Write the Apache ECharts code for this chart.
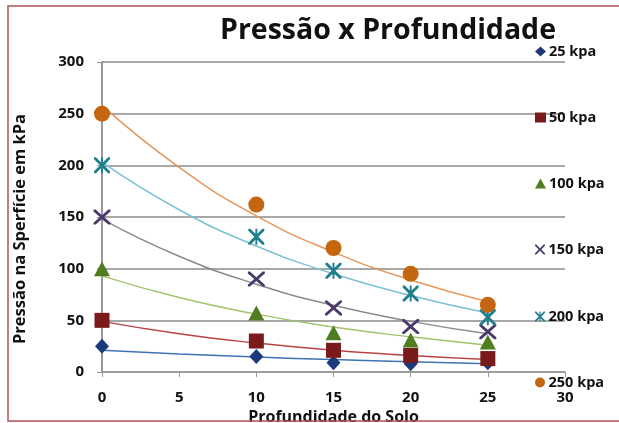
<!DOCTYPE html>
<html>
<head>
<meta charset="utf-8">
<script src="https://cdn.jsdelivr.net/npm/echarts@6/dist/echarts.min.js"></script>
<style>html,body{margin:0;padding:0;background:#fff}#c{width:619px;height:423px}</style>
</head>
<body>
<div id="c"></div>
<script>
// Measured points
var depths = [0, 10, 15, 20, 25];
var p25  = [25, 15, 9, 8, 9];
var p50  = [50, 30, 21, 16, 13];
var p100 = [100, 57, 38, 31, 29];
var p150 = [150, 90, 62, 44, 39];
var p200 = [200, 131, 98, 76, 53];
var p250 = [250, 162, 120, 95, 65];
// Trendline values
var trendDepths = [0, 5, 10, 15, 20, 25];
var t25  = [21, 17.5, 14.5, 12, 10, 8];
var t50  = [49, 37, 28, 21, 16, 12];
var t100 = [93, 72, 56, 43.5, 34, 26];
var t150 = [148, 112, 85, 64.5, 49, 37];
var t200 = [203, 157, 122, 95, 74, 57];
var t250 = [258, 198, 151, 116, 89, 68];
var seriesNames = ['25 kpa', '50 kpa', '100 kpa', '150 kpa', '200 kpa', '250 kpa'];
var xTicks = [0, 5, 10, 15, 20, 25, 30];
var yTicks = [0, 50, 100, 150, 200, 250, 300];

var points = [p25, p50, p100, p150, p200, p250];
var trends = [t25, t50, t100, t150, t200, t250];
var markColors = ['#1c3a7a', '#7a1a1a', '#4f7d20', '#4a3a6c', '#1f7f8f', '#c4650f'];
var lineColors = ['#3f73b4', '#b84545', '#a3c36a', '#8a8a8a', '#7cc0d4', '#e8975a'];
var XPATH = 'path://M0,0 L2.5,0 L10,7.5 L17.5,0 L20,0 L20,2.5 L12.5,10 L20,17.5 L20,20 L17.5,20 L10,12.5 L2.5,20 L0,20 L0,17.5 L7.5,10 L0,2.5 Z';
var STARPATH = 'path://M0,0 L2.5,0 L10,7.5 L17.5,0 L20,0 L20,2.5 L12.5,10 L20,17.5 L20,20 L17.5,20 L10,12.5 L2.5,20 L0,20 L0,17.5 L7.5,10 L0,2.5 Z M8.8,0 L11.2,0 L11.2,20 L8.8,20 Z';
var symbols = ['diamond', 'rect', 'triangle', XPATH, STARPATH, 'circle'];
var symSizes = [[14, 15], [15, 15], [16, 15], [17, 15], [16, 16], [16, 16]];
var FONT = 'Open Sans';

function pairs(xs, ys) { return xs.map(function (x, i) { return [x, ys[i]]; }); }

var series = [];
trends.forEach(function (t, i) {
  series.push({
    name: 'trend ' + seriesNames[i], type: 'line', smooth: true, symbol: 'none',
    data: pairs(trendDepths, t), lineStyle: { color: lineColors[i], width: 1.5 },
    z: 2, silent: true
  });
});
points.forEach(function (p, i) {
  series.push({
    name: seriesNames[i], type: 'scatter', symbol: symbols[i], symbolSize: symSizes[i],
    data: pairs(depths, p), itemStyle: { color: markColors[i], opacity: 1 }, z: 3
  });
});

var legendCenters = [52, 118, 184, 250, 317, 383];
var legends = seriesNames.map(function (n, i) {
  return {
    data: [n], left: 535, top: legendCenters[i] - 8, orient: 'vertical',
    itemWidth: 11, itemHeight: 10, itemGap: 4,
    textStyle: { fontFamily: FONT, fontWeight: 'bold', fontSize: 14.5, color: '#111', padding: [0, 0, 0, -2] },
    padding: 0, selectedMode: false
  };
});

var chart = echarts.init(document.getElementById('c'), null, { renderer: 'canvas' });
chart.setOption({
  backgroundColor: '#ffffff',
  animation: false,
  title: {
    text: 'Pressão x Profundidade', left: 215, top: 11,
    textStyle: { fontFamily: FONT, fontWeight: 'bold', fontSize: 28.5, color: '#111' }
  },
  legend: legends,
  grid: { left: 102, right: 54, top: 62, bottom: 51, containLabel: false, outerBoundsMode: 'none' },
  xAxis: {
    type: 'value', min: 0, max: 30, interval: 5,
    name: 'Profundidade do Solo', nameLocation: 'middle', nameGap: 36,
    nameTextStyle: { fontFamily: FONT, fontWeight: 'bold', fontSize: 16, color: '#111' },
    axisLine: { show: true, onZero: false, lineStyle: { color: '#9a9a9a', width: 1.5 } },
    axisTick: { show: true, length: 5, lineStyle: { color: '#9a9a9a' } },
    axisLabel: { margin: 18, fontFamily: FONT, fontWeight: 'bold', fontSize: 15, color: '#111' },
    splitLine: { show: false }
  },
  yAxis: {
    type: 'value', min: 0, max: 300, interval: 50,
    name: 'Pressão na Sperfície em kPa', nameLocation: 'middle', nameGap: 73, nameRotate: 90,
    nameTextStyle: { fontFamily: FONT, fontWeight: 'bold', fontSize: 16.5, color: '#111', padding: [0, 24, 0, 0] },
    axisLine: { show: true, lineStyle: { color: '#777', width: 1.5 } },
    axisTick: { show: true, length: 5, lineStyle: { color: '#9a9a9a' } },
    axisLabel: { margin: 18, fontFamily: FONT, fontWeight: 'bold', fontSize: 15, color: '#111' },
    splitLine: { show: true, lineStyle: { color: '#a8a8a8', width: 2 } }
  },
  graphic: [{
    type: 'rect', shape: { x: 8, y: 6, width: 640, height: 415 },
    style: { fill: 'none', stroke: '#b05555', lineWidth: 1.5 }, z: 100, silent: true
  }],
  series: series
});
</script>
</body>
</html>
